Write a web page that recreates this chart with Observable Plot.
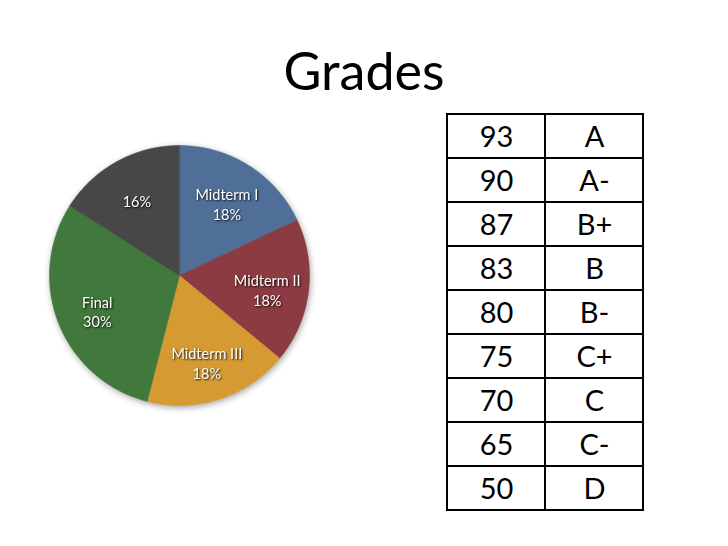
<!DOCTYPE html>
<html><head><meta charset="utf-8">
<script src="https://cdn.jsdelivr.net/npm/d3@7"></script>
<script src="https://cdn.jsdelivr.net/npm/@observablehq/plot@0.6"></script>
<style>
body{margin:0;background:#fff;}
#wrap{position:relative;width:728px;height:546px;overflow:hidden;font-family:Lato,sans-serif;background:#fff;}
#title{position:absolute;left:0;width:728px;top:44px;text-align:center;font-size:52px;line-height:52px;color:#000;}
#pie{position:absolute;left:48px;top:144px;filter:drop-shadow(1px 2px 3px rgba(0,0,0,0.35));}
#pie text{text-shadow:1px 1px 2px rgba(0,0,0,0.9);}
#table{position:absolute;left:445px;top:111px;}
</style></head><body>
<div id="wrap"><div id="title">Grades</div><div id="pie"></div><div id="table"></div></div>
<script>
// Pie data
const components = ["Midterm I", "Midterm II", "Midterm III", "Final", "Other"];
const componentLabels = ["Midterm I", "Midterm II", "Midterm III", "Final", ""];
const weights = [18, 18, 18, 30, 16];
const sliceColors = ["#4f6f98", "#8d3b42", "#d59b32", "#41783b", "#474747"];
// Table data
const scores = [93, 90, 87, 83, 80, 75, 70, 65, 50];
const letters = ["A", "A-", "B+", "B", "B-", "C+", "C", "C-", "D"];

// ---- Pie ----
const pieData = components.map((c, i) => ({name: c, label: componentLabels[i], w: weights[i]}));
const arcs = d3.pie().sort(null).value(d => d.w)(pieData);
const polyPts = [];
const labelPts = [];
for (const a of arcs) {
  polyPts.push({name: a.data.name, x: 0, y: 0});
  const n = Math.max(2, Math.ceil((a.endAngle - a.startAngle) / (Math.PI / 180)));
  for (let k = 0; k <= n; k++) {
    const t = a.startAngle + (a.endAngle - a.startAngle) * k / n;
    polyPts.push({name: a.data.name, x: Math.sin(t), y: Math.cos(t)});
  }
  const m = (a.startAngle + a.endAngle) / 2;
  const r = 0.68;
  labelPts.push({
    x: r * Math.sin(m), y: r * Math.cos(m),
    text: (a.data.label ? a.data.label + "\n" : "") + a.data.w + "%"
  });
}
const pie = Plot.plot({
  width: 262, height: 262, margin: 1,
  x: {domain: [-1, 1], axis: null},
  y: {domain: [-1, 1], axis: null},
  color: {domain: components, range: sliceColors},
  style: {fontFamily: "Lato, sans-serif", background: "transparent", overflow: "visible"},
  marks: [
    Plot.line(polyPts, {x: "x", y: "y", z: "name", fill: "name", stroke: "name", strokeWidth: 0.5, curve: "linear-closed"}),
    Plot.text(labelPts, {x: "x", y: "y", text: "text", fill: "white", fontSize: 14.5, lineHeight: 1.35, dy: 3})
  ]
});
document.getElementById("pie").appendChild(pie);

// ---- Table ----
const cols = ["score", "grade"];
const rows = [];
letters.forEach((l, i) => {
  rows.push({col: "score", row: l, text: String(scores[i])});
  rows.push({col: "grade", row: l, text: l});
});
const table = Plot.plot({
  width: 199, height: 402, margin: 1,
  x: {type: "band", domain: cols, padding: 0, axis: null},
  y: {type: "band", domain: letters, padding: 0, axis: null},
  style: {fontFamily: "Lato, sans-serif", background: "transparent", overflow: "visible"},
  marks: [
    Plot.cell(rows, {x: "col", y: "row", fill: "white", stroke: "black", strokeWidth: 2, inset: 0}),
    Plot.text(rows, {x: "col", y: "row", text: "text", fontSize: 29, fill: "black", dy: 1})
  ]
});
document.getElementById("table").appendChild(table);
</script>
</body></html>
